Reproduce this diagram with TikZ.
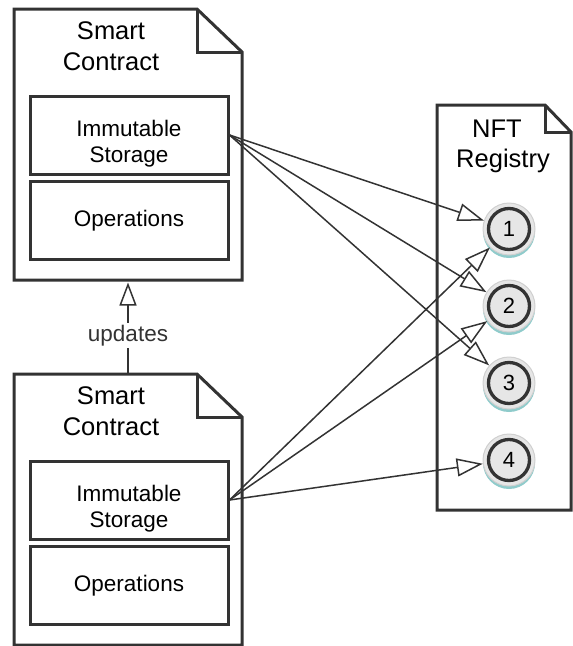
\documentclass[tikz,border=0pt]{standalone}
\usepackage{fontspec}
\setmainfont{Liberation Sans}
\usetikzlibrary{arrows.meta}
\definecolor{ink}{HTML}{333333}
\definecolor{tokfill}{HTML}{E6E6E6}
\definecolor{tokrim}{HTML}{D0D0D0}
\definecolor{tokshadow}{HTML}{8FCBCB}
\begin{document}
\begin{tikzpicture}[x=1pt,y=-1pt,
  docline/.style={draw=ink, line width=3pt, line join=miter},
  boxline/.style={draw=ink, line width=3pt, rectangle, minimum width=198pt, minimum height=78pt, inner sep=0pt},
  bigtxt/.style={font=\fontsize{25.5}{30}\selectfont, anchor=base, inner sep=0pt, text=black},
  midtxt/.style={font=\fontsize{22.5}{25}\selectfont, anchor=base, inner sep=0pt, text=black},
  token/.style={circle, minimum size=52pt, inner sep=0pt, fill=tokfill, draw=tokrim, line width=1pt,
    font=\fontsize{22}{26}\selectfont,
    preaction={fill=tokshadow, draw=none, transform canvas={yshift=-3pt}},
    path picture={\draw[ink, line width=3.3pt] (path picture bounding box.center) circle (20.5pt);}},
  link/.style={draw=ink, line width=1.5pt, -{Triangle[fill=white, length=26pt, width=18pt]}},
]
\useasboundingbox (0,0) rectangle (573,646);

% ---------- top smart contract ----------
\draw[docline] (14,9) -- (197,9) -- (242,52) -- (242,280) -- (14,280) -- cycle;
\draw[docline] (197,9) -- (197,52) -- (242,52);
\node[bigtxt] (t1) at (111,39.5) {Smart};
\node[bigtxt] (t2) at (111,70) {Contract};
\node[boxline] (isT) at (129,135) {};
\node[midtxt] (t3) at (129,136) {Immutable};
\node[midtxt] (t4) at (129,162) {Storage};
\node[boxline] (opT) at (129,220) {};
\node[midtxt] (t5) at (129,226.5) {Operations};

% ---------- bottom smart contract ----------
\draw[docline] (14,374) -- (197,374) -- (242,417) -- (242,645) -- (14,645) -- cycle;
\draw[docline] (197,374) -- (197,417) -- (242,417);
\node[bigtxt] (b1) at (111,404.5) {Smart};
\node[bigtxt] (b2) at (111,435) {Contract};
\node[boxline] (isB) at (129,500) {};
\node[midtxt] (b3) at (129,501) {Immutable};
\node[midtxt] (b4) at (129,527) {Storage};
\node[boxline] (opB) at (129,585) {};
\node[midtxt] (b5) at (129,591.5) {Operations};

% ---------- updates ----------
\coordinate (topdocb) at (128,282.5);
\coordinate (botdoct) at (128,374);
\draw[draw=ink, line width=1.5pt, -{Triangle[fill=white, length=23pt, width=17pt]}] (botdoct) -- (topdocb)
  node[pos=0.42, fill=white, inner sep=2pt, text=ink, font=\fontsize{22.5}{25}\selectfont] (upd) {updates};

% ---------- registry ----------
\draw[docline] (437,105) -- (545,105) -- (571,132) -- (571,510) -- (437,510) -- cycle;
\draw[docline] (545,105) -- (545,132) -- (571,132);
\node[bigtxt] (r1) at (497,137) {NFT};
\node[bigtxt] (r2) at (503,167) {Registry};

\node[token] (n1) at (509,229) {1};
\node[token] (n2) at (509,306) {2};
\node[token] (n3) at (509,383) {3};
\node[token] (n4) at (509,460) {4};

% ---------- links ----------
\draw[link] (isT.east) -- (n1);
\draw[link] (isT.east) -- (n2);
\draw[link] (isT.east) -- (n3);
\draw[link] (isB.east) -- (n1);
\draw[link] (isB.east) -- (n2);
\draw[link] (isB.east) -- (n4);
\end{tikzpicture}
\end{document}
